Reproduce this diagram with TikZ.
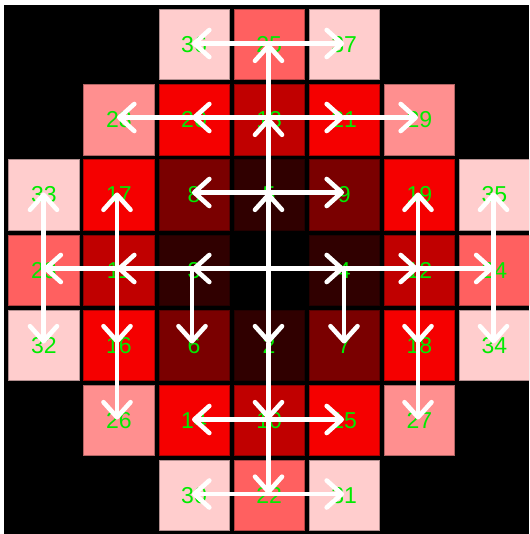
\documentclass[tikz,border=0pt]{standalone}
\usepackage{fontspec}
\setmainfont{Liberation Sans}
\usetikzlibrary{arrows.meta}
\definecolor{oA}{RGB}{48,0,0}
\definecolor{dg}{RGB}{122,0,0}
\definecolor{oB}{RGB}{192,0,0}
\definecolor{kn}{RGB}{245,0,0}
\definecolor{oC}{RGB}{255,96,96}
\definecolor{dd}{RGB}{255,143,143}
\definecolor{pk}{RGB}{255,205,205}
\definecolor{lbl}{RGB}{0,235,0}
\newcommand\mycell[4]{%
  \pgfmathsetmacro\cx{8.3+75.1*#1+35.5}%
  \pgfmathsetmacro\cy{9.3+75.1*#2+35.5}%
  \pgfmathsetmacro\ax{{43.5,117,192,268.5,344,418,493.5}[#1]}%
  \pgfmathsetmacro\ay{{43.5,117.5,192.5,268.5,343.5,419.5,494}[#2]}%
  \node[cellbox=#4] (c#3) at (\cx,\cy) {#3};
  \coordinate (p#3) at (\ax,\ay);}
\begin{document}
\begin{tikzpicture}[x=1pt,y=-1pt,
  cellbox/.style={draw=#1!70!black, fill=#1, line width=0.8pt, minimum size=70.2pt,
    inner sep=0pt, text=lbl, font=\fontsize{23}{23}\selectfont},
  arr/.style={draw=white, line width=4.6pt, line cap=round,
    -{Straight Barb[length=15pt,width=27pt,round]}}]
\useasboundingbox (0,0) rectangle (529,534);
\fill[white] (0,0) rectangle (529,534);
\fill[black] (4,5) rectangle (529,534);
\clip (4,5) rectangle (529,534);
% row 0
\mycell{2}{0}{36}{pk}\mycell{3}{0}{25}{oC}\mycell{4}{0}{37}{pk}
% row 1
\mycell{1}{1}{28}{dd}\mycell{2}{1}{20}{kn}\mycell{3}{1}{13}{oB}\mycell{4}{1}{21}{kn}\mycell{5}{1}{29}{dd}
% row 2
\mycell{0}{2}{33}{pk}\mycell{1}{2}{17}{kn}\mycell{2}{2}{8}{dg}\mycell{3}{2}{5}{oA}\mycell{4}{2}{9}{dg}\mycell{5}{2}{19}{kn}\mycell{6}{2}{35}{pk}
% row 3
\mycell{0}{3}{23}{oC}\mycell{1}{3}{11}{oB}\mycell{2}{3}{3}{oA}
\pgfmathsetmacro\cx{8.3+75.1*3+35.5}\pgfmathsetmacro\cy{9.3+75.1*3+35.5}
\node[cellbox=black] (c1) at (\cx,\cy) {};
\coordinate (p1) at (268.5,268.5);
\mycell{4}{3}{4}{oA}\mycell{5}{3}{12}{oB}\mycell{6}{3}{24}{oC}
% row 4
\mycell{0}{4}{32}{pk}\mycell{1}{4}{16}{kn}\mycell{2}{4}{6}{dg}\mycell{3}{4}{2}{oA}\mycell{4}{4}{7}{dg}\mycell{5}{4}{18}{kn}\mycell{6}{4}{34}{pk}
% row 5
\mycell{1}{5}{26}{dd}\mycell{2}{5}{14}{kn}\mycell{3}{5}{10}{oB}\mycell{4}{5}{15}{kn}\mycell{5}{5}{27}{dd}
% row 6
\mycell{2}{6}{30}{pk}\mycell{3}{6}{22}{oC}\mycell{4}{6}{31}{pk}
% arrows
\foreach \a/\b in {1/2,1/3,1/4,1/5,2/10,10/22,5/13,13/25,3/11,11/23,4/12,12/24,
  3/6,4/7,5/8,5/9,10/14,10/15,13/20,13/21,20/28,21/29,11/17,11/16,16/26,
  12/19,12/18,18/27,23/33,23/32,24/35,24/34,22/30,22/31,25/36,25/37}
  \draw[arr] (p\a) -- (p\b);
\end{tikzpicture}
\end{document}
